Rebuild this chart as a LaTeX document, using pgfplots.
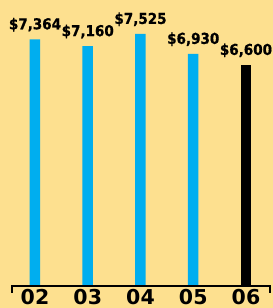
\documentclass[border=0pt]{standalone}
\usepackage{fontspec}
\setmainfont{DejaVu Sans}
\newfontfamily\valfont[FakeStretch=0.9, BoldFeatures={FakeBold=0.8}]{DejaVu Sans}
\usepackage{pgfplots}
\pgfplotsset{compat=1.18}
\definecolor{bg}{RGB}{253,224,143}
\definecolor{barblue}{RGB}{0,174,239}
\begin{document}
\begin{tikzpicture}[x=1pt,y=1pt]
\path[use as bounding box, clip] (0,0) rectangle (273,308);
\fill[bg] (0,0) rectangle (273,308);
\begin{axis}[
 at={(12pt,22pt)}, anchor=south west, scale only axis,
 width=258pt, height=268pt,
 xmin=-0.436, xmax=4.455, ymin=0, ymax=8000,
 axis line style={draw=none},
 ytick=\empty, xtick={0,1,2,3,4}, xticklabels={02,03,04,05,06},
 major tick length=0pt,
 xticklabel style={font=\fontsize{20.5}{20.5}\selectfont\bfseries, anchor=base, yshift=-19pt, inner sep=0pt},
 ybar, bar width=10.5pt, bar shift=0pt,
 point meta=explicit symbolic,
 nodes near coords,
 every node near coord/.append style={font=\valfont\fontsize{15}{15}\selectfont\bfseries, anchor=base, yshift=10pt, inner sep=0pt, text=black},
 clip=false,
]
\addplot[fill=barblue, draw=none] coordinates {(0,7364) [\$7,364] (1,7160) [\$7,160] (2,7525) [\$7,525] (3,6930) [\$6,930]};
\addplot[fill=black, draw=none] coordinates {(4,6600) [\$6,600]};
\draw[line width=2pt] (rel axis cs:0,0) ++(0pt,-7pt) -- ++(0pt,7pt) -- (rel axis cs:1,0) -- ++(0pt,-7pt);
\end{axis}
\end{tikzpicture}
\end{document}
